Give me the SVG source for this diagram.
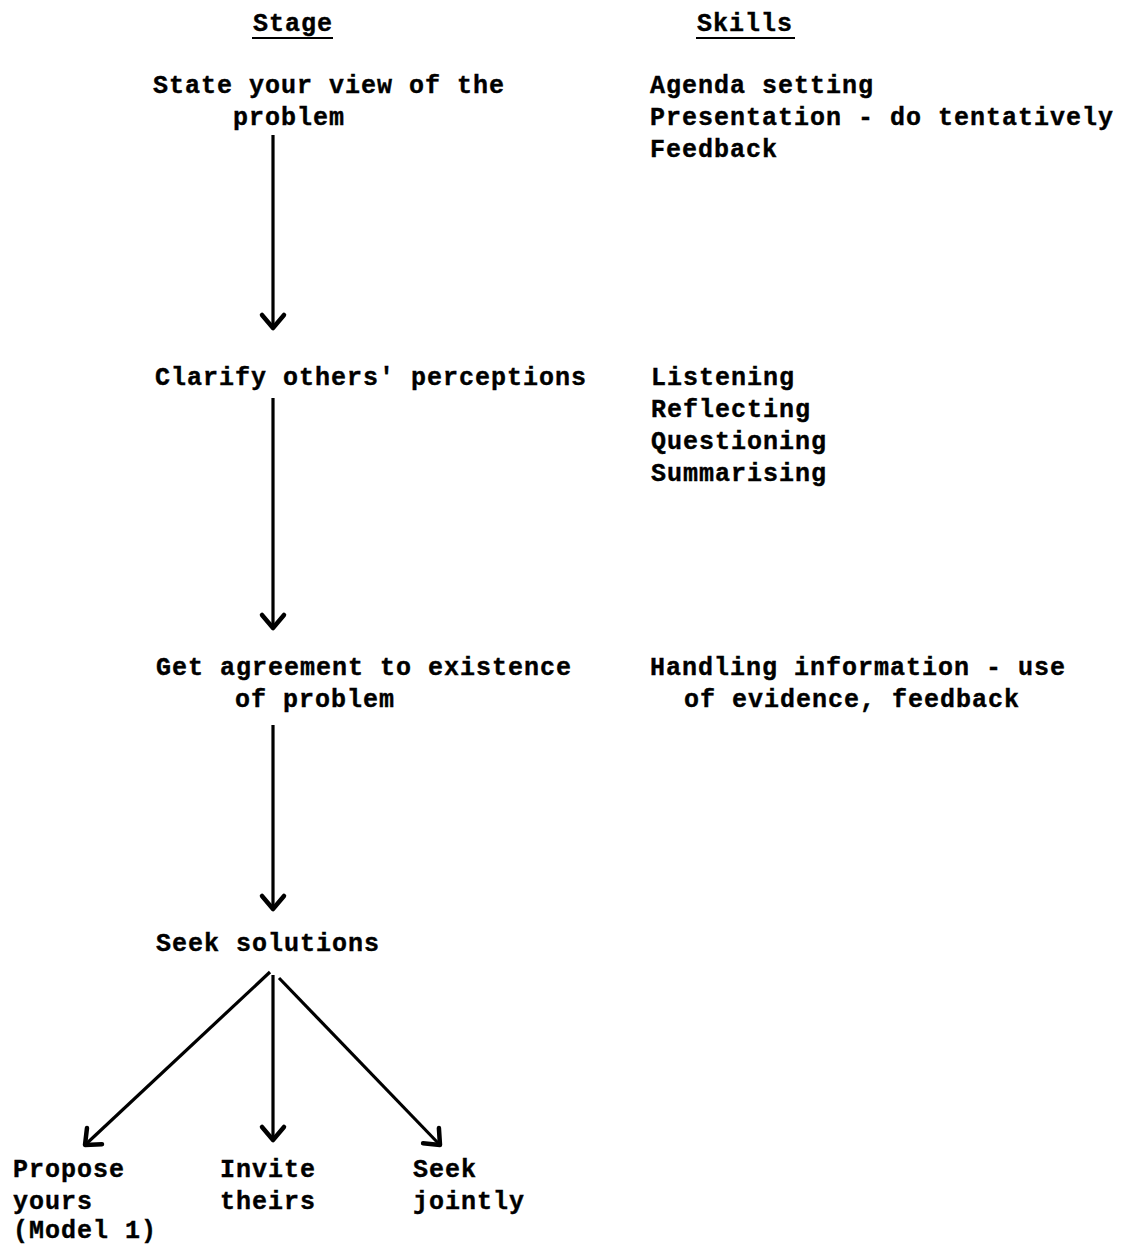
<svg xmlns="http://www.w3.org/2000/svg" width="1128" height="1246" viewBox="0 0 1128 1246">
  <style>
    text { font-family: "Liberation Mono", "DejaVu Sans Mono", monospace; font-weight: bold; font-size: 25px; letter-spacing: 1px; fill: #000; stroke: #000; stroke-width: 0.4px; }
    .shaft { stroke: #000; stroke-width: 3.2; fill: none; }
    .head { stroke: #000; stroke-width: 4.5; fill: none; stroke-linecap: round; stroke-linejoin: round; }
    .rule { stroke: #000; stroke-width: 2; }
  </style>
  <defs>
    <marker id="vee" markerUnits="userSpaceOnUse" markerWidth="40" markerHeight="40" refX="20" refY="20" orient="auto" viewBox="0 0 40 40">
      <path class="head" d="M7,9 L20,20 L7,31"/>
    </marker>
  </defs>
  <rect width="1128" height="1246" fill="#fff"/>

  <!-- column headings -->
  <g id="heading-stage">
    <text x="253" y="31">Stage</text>
    <line class="rule" x1="252" y1="38" x2="333" y2="38"/>
  </g>
  <g id="heading-skills">
    <text x="697" y="31">Skills</text>
    <line class="rule" x1="696" y1="38" x2="795" y2="38"/>
  </g>

  <!-- stages -->
  <g id="stage-state">
    <text x="153" y="93">State your view of the</text>
    <text x="233" y="125">problem</text>
  </g>
  <g id="stage-clarify">
    <text x="155" y="385">Clarify others' perceptions</text>
  </g>
  <g id="stage-agree">
    <text x="156" y="675">Get agreement to existence</text>
    <text x="235" y="707">of problem</text>
  </g>
  <g id="stage-seek">
    <text x="156" y="951">Seek solutions</text>
  </g>
  <g id="option-propose">
    <text x="13" y="1177">Propose</text>
    <text x="13" y="1209">yours</text>
    <text x="13" y="1238">(Model 1)</text>
  </g>
  <g id="option-invite">
    <text x="220" y="1177">Invite</text>
    <text x="220" y="1209">theirs</text>
  </g>
  <g id="option-joint">
    <text x="413" y="1177">Seek</text>
    <text x="413" y="1209">jointly</text>
  </g>

  <!-- skills -->
  <g id="skills-state">
    <text x="650" y="93">Agenda setting</text>
    <text x="650" y="125">Presentation - do tentatively</text>
    <text x="650" y="157">Feedback</text>
  </g>
  <g id="skills-clarify">
    <text x="651" y="385">Listening</text>
    <text x="651" y="417">Reflecting</text>
    <text x="651" y="449">Questioning</text>
    <text x="651" y="481">Summarising</text>
  </g>
  <g id="skills-agree">
    <text x="650" y="675">Handling information - use</text>
    <text x="684" y="707">of evidence, feedback</text>
  </g>

  <!-- connectors -->
  <g id="connectors">
    <line class="shaft" x1="273" y1="135" x2="273" y2="328" marker-end="url(#vee)"/>
    <line class="shaft" x1="273" y1="398" x2="273" y2="628" marker-end="url(#vee)"/>
    <line class="shaft" x1="273" y1="725" x2="273" y2="909" marker-end="url(#vee)"/>
    <line class="shaft" x1="270" y1="972" x2="85" y2="1145" marker-end="url(#vee)"/>
    <line class="shaft" x1="273" y1="975" x2="273" y2="1140" marker-end="url(#vee)"/>
    <line class="shaft" x1="279" y1="978" x2="440" y2="1145" marker-end="url(#vee)"/>
  </g>
</svg>
